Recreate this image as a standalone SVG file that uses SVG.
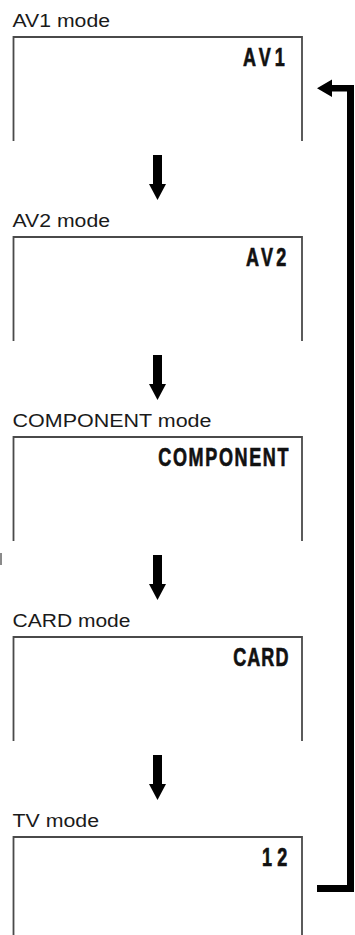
<svg xmlns="http://www.w3.org/2000/svg" width="355" height="935" viewBox="0 0 355 935">
<style>
.frame{fill:none;stroke:#4a4a4a;stroke-width:1.8}
.lbl{font-family:"Liberation Sans",Arial,sans-serif;font-size:17.5px;fill:#1a1a1a}
.disp{font-family:"Liberation Sans",Arial,sans-serif;font-weight:bold;font-size:26.5px;fill:#111;stroke:#111;stroke-width:0.7}
.arr{fill:#000}
</style>
<rect width="355" height="935" fill="#fff"/>
<g id="node-av1">
<text class="lbl" x="12.5" y="26.5" textLength="97.5" lengthAdjust="spacingAndGlyphs">AV1 mode</text>
<path class="frame" d="M13.5,141 V37 H302 V141"/>
<text class="disp" transform="scale(0.68,1)" x="357.4" y="66" letter-spacing="5.9">AV1</text>
</g>
<g id="node-av2">
<text class="lbl" x="12.5" y="226.5" textLength="97.5" lengthAdjust="spacingAndGlyphs">AV2 mode</text>
<path class="frame" d="M13.5,341 V237 H302 V341"/>
<text class="disp" transform="scale(0.68,1)" x="361.8" y="266" letter-spacing="4.85">AV2</text>
</g>
<g id="node-component">
<text class="lbl" x="12.5" y="426.5" textLength="199" lengthAdjust="spacingAndGlyphs">COMPONENT mode</text>
<path class="frame" d="M13.5,541 V437 H302 V541"/>
<text class="disp" transform="scale(0.68,1)" x="232.8" y="466" letter-spacing="2.4">COMPONENT</text>
</g>
<g id="node-card">
<text class="lbl" x="12.5" y="626.5" textLength="118" lengthAdjust="spacingAndGlyphs">CARD mode</text>
<path class="frame" d="M13.5,741 V637 H302 V741"/>
<text class="disp" transform="scale(0.68,1)" x="343.1" y="666" letter-spacing="1.5">CARD</text>
</g>
<g id="node-tv">
<text class="lbl" x="12.5" y="826.5" textLength="86.5" lengthAdjust="spacingAndGlyphs">TV mode</text>
<path class="frame" d="M13.5,940 V837 H302 V940"/>
<text class="disp" transform="scale(0.68,1)" x="385.3" y="866" letter-spacing="7.8">12</text>
</g>
<g id="connectors">
<path class="arr" d="M153,155 H162 V184 H166 L157.5,200 L149,184 H153 Z"/>
<path class="arr" d="M153,355 H162 V384 H166 L157.5,400 L149,384 H153 Z"/>
<path class="arr" d="M153,555 H162 V584 H166 L157.5,600 L149,584 H153 Z"/>
<path class="arr" d="M153,755 H162 V784 H166 L157.5,800 L149,784 H153 Z"/>
<path class="arr" d="M354,892 H317 V885 H347 V91.5 H332 V97 L317,88.3 L332,79.5 V85 H354 Z"/>
</g>
<rect x="0" y="553" width="2" height="12" fill="#8a8a8a"/>
</svg>
